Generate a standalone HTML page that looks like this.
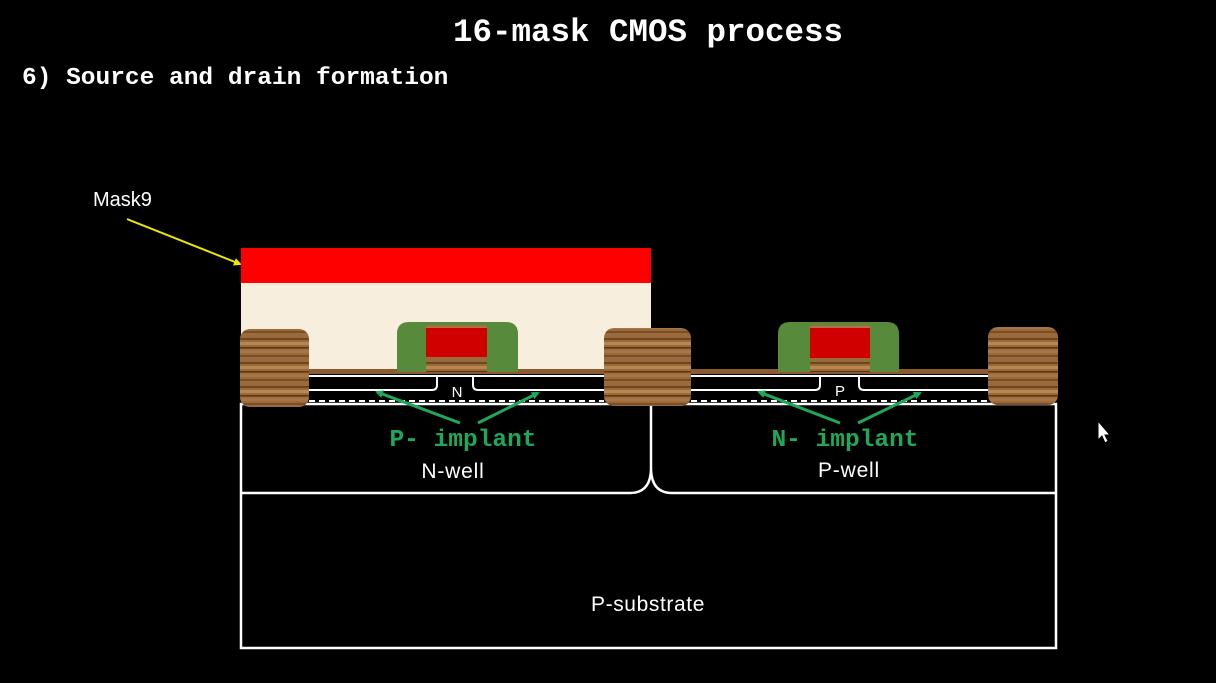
<!DOCTYPE html>
<html><head><meta charset="utf-8"><style>
html,body{margin:0;padding:0;background:#000;width:1216px;height:683px;overflow:hidden}
svg{display:block}
.mono{font-family:"Liberation Mono",monospace;font-weight:bold}
.sans{font-family:"Liberation Sans",sans-serif}
</style></head><body>
<svg width="1216" height="683" viewBox="0 0 1216 683">
<defs>
<pattern id="wood" width="20" height="24" patternUnits="userSpaceOnUse">
<rect width="20" height="24" fill="#9a6a3a"/>
<rect y="2" width="20" height="2" fill="#6e4522"/>
<rect y="6" width="20" height="3" fill="#b8874f"/>
<rect y="11" width="20" height="1.5" fill="#5a3518"/>
<rect y="14" width="20" height="3" fill="#a87644"/>
<rect y="19" width="20" height="2" fill="#7a4e28"/>
</pattern>
<marker id="ga" markerWidth="8" markerHeight="8" refX="6" refY="4" orient="auto" markerUnits="userSpaceOnUse"><path d="M0,0 L8,4 L0,8 z" fill="#1ea85a"/></marker>
<marker id="ya" markerWidth="8" markerHeight="8" refX="6" refY="4" orient="auto" markerUnits="userSpaceOnUse"><path d="M0,0 L8,4 L0,8 z" fill="#e8e800"/></marker>
</defs>
<text class="mono" x="648" y="41" font-size="32.5" fill="#fff" text-anchor="middle">16-mask CMOS process</text>
<text class="mono" x="22" y="84" font-size="24.5" fill="#fff">6) Source and drain formation</text>
<text class="sans" x="93" y="206" font-size="20" fill="#fff">Mask9</text>
<line x1="127" y1="219" x2="240" y2="264" stroke="#e8e800" stroke-width="2" marker-end="url(#ya)"/>

<g fill="none" stroke="#fff" stroke-width="2.5">
<rect x="241" y="404" width="815" height="244"/>
<path d="M241,493 H630 Q650,493 651,470 Q652,493 672,493 H1055"/>
<line x1="651" y1="404" x2="651" y2="470"/>
</g>
<rect x="241" y="248" width="410" height="35" fill="#ff0000"/>
<rect x="241" y="283" width="410" height="90" fill="#f8eedd"/>
<rect x="300" y="369" width="310" height="5" fill="#8a5a30"/>
<rect x="686" y="369" width="310" height="5" fill="#8a5a30"/>

<g fill="none" stroke="#fff" stroke-width="2">
<path d="M309,376 H604"/>
<path d="M309,390 H432 Q437,390 437,385 V376"/>
<path d="M604,390 H478 Q473,390 473,385 V376"/>
<path d="M691,376 H988"/>
<path d="M691,390 H815 Q820,390 820,385 V376"/>
<path d="M988,390 H864 Q859,390 859,385 V376"/>
<path d="M309,401 H604 M691,401 H988" stroke-dasharray="6,4"/>
</g>
<text class="sans" x="457" y="397" font-size="15" fill="#fff" text-anchor="middle">N</text>
<text class="sans" x="840" y="396" font-size="15" fill="#fff" text-anchor="middle">P</text>

<rect x="240" y="329" width="69" height="78" rx="10" fill="url(#wood)"/>
<rect x="604" y="328" width="87" height="78" rx="10" fill="url(#wood)"/>
<rect x="988" y="327" width="70" height="78" rx="10" fill="url(#wood)"/>

<g>
<path d="M397,372 V334 Q397,322 409,322 H506 Q518,322 518,334 V372 Z" fill="#578a3a"/>
<rect x="426" y="325" width="61" height="47" fill="url(#wood)"/>
<rect x="426" y="328" width="61" height="29" fill="#d00000"/>
</g>
<g>
<path d="M778,372 V334 Q778,322 790,322 H887 Q899,322 899,334 V372 Z" fill="#578a3a"/>
<rect x="810" y="325" width="60" height="47" fill="url(#wood)"/>
<rect x="810" y="328" width="60" height="30" fill="#d00000"/>
</g>

<g stroke="#1ea85a" stroke-width="3">
<line x1="460" y1="423" x2="377" y2="392" marker-end="url(#ga)"/>
<line x1="478" y1="423" x2="538" y2="393" marker-end="url(#ga)"/>
<line x1="840" y1="423" x2="759" y2="392" marker-end="url(#ga)"/>
<line x1="858" y1="423" x2="920" y2="393" marker-end="url(#ga)"/>
</g>
<text class="mono" x="463" y="446" font-size="24.5" fill="#1ea85a" text-anchor="middle">P- implant</text>
<text class="mono" x="845" y="446" font-size="24.5" fill="#1ea85a" text-anchor="middle">N- implant</text>
<text class="sans" x="453" y="478" font-size="21" fill="#fff" text-anchor="middle" letter-spacing="0.8">N-well</text>
<text class="sans" x="849" y="477" font-size="21" fill="#fff" text-anchor="middle" letter-spacing="0.8">P-well</text>
<text class="sans" x="648" y="611" font-size="21" fill="#fff" text-anchor="middle" letter-spacing="0.6">P-substrate</text>
<path d="M1098,421 V440 L1102,436 L1105,443 L1108,441 L1105,435 L1110,435 Z" fill="#fff" stroke="#000" stroke-width="1"/>
</svg>
</body></html>
